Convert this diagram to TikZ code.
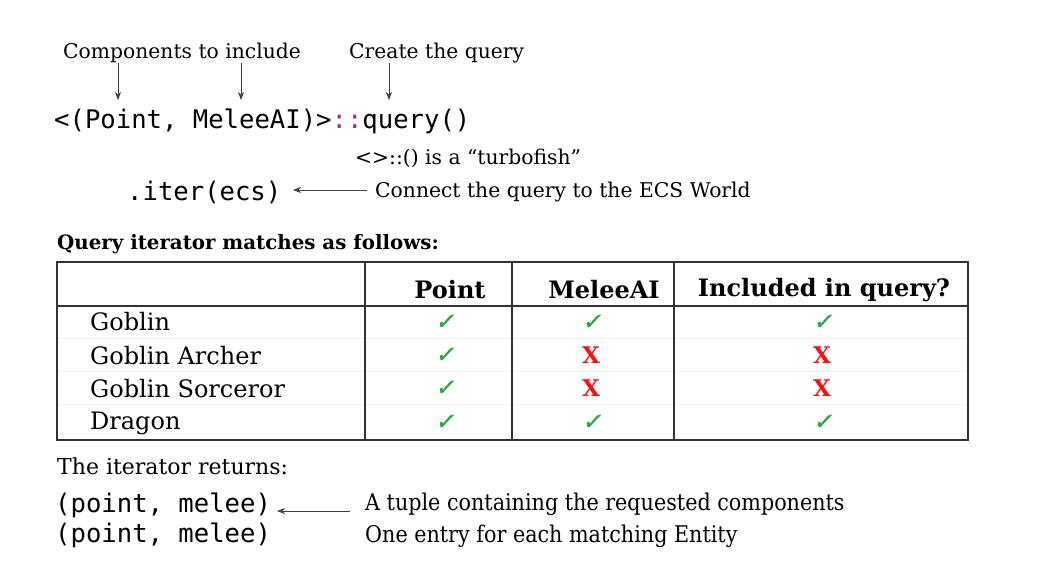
\documentclass[tikz,border=0pt]{standalone}
\usepackage{fontspec}
\usepackage{graphicx}
\setmainfont{DejaVu Serif}
\setmonofont{DejaVu Sans Mono}
\newfontfamily\checkfont[FakeSlant=0.2,FakeBold=1.4]{DejaVu Sans}
\usetikzlibrary{arrows.meta}
\definecolor{fishpurple}{RGB}{160,40,160}
\definecolor{okgreen}{RGB}{40,170,60}
\definecolor{badred}{RGB}{240,20,20}
\tikzset{
  lbl/.style={anchor=west, inner sep=0pt, yshift=-2pt, font=\fontsize{20.3}{22}\selectfont},
  code/.style={anchor=west, inner sep=0pt, yshift=-2pt, font=\fontsize{25.6}{28}\ttfamily},
  cond/.style={anchor=west, inner sep=0pt, yshift=-1pt},
  cell/.style={anchor=west, inner sep=0pt, yshift=-1pt, font=\fontsize{24}{26}\selectfont},
  head/.style={inner sep=0pt, font=\fontsize{24}{26}\bfseries},
  yes/.style={inner sep=0pt, text=okgreen, font=\fontsize{23}{24}\checkfont},
  no/.style={inner sep=0pt, text=badred, font=\fontsize{23}{22}\bfseries},
  arr/.style={-{Stealth[length=8pt,width=6pt,inset=2.5pt]}, line width=0.8pt, draw=black!75},
  frame/.style={line width=1.3pt, draw=black!80},
  faint/.style={line width=0.8pt, draw=black!6}
}
\begin{document}
\begin{tikzpicture}[x=1pt,y=-1pt]
\useasboundingbox (0,0) rectangle (1044,560);
% top labels
\node[lbl] (comp) at (63,51) {Components to include};
\node[lbl] (create) at (349,51) {Create the query};
\node[code] (query) at (54,119) {<(Point, MeleeAI)>\textcolor{fishpurple}{::}query()};
\coordinate (a1) at (118,100);
\coordinate (a2) at (241,100);
\coordinate (a3) at (389,100);
\coordinate (s1) at (118,63);
\coordinate (s2) at (241,63);
\coordinate (s3) at (389,63);
\draw[arr] (s1) -- (a1);
\draw[arr] (s2) -- (a2);
\draw[arr] (s3) -- (a3);
\node[lbl] (fish) at (355,156) {<>::() is a “turbofish”};
\node[code] (iter) at (127,190) {.iter(ecs)};
\node[lbl] (conn) at (375,190) {Connect the query to the ECS World};
\coordinate (c0) at (367,190);
\coordinate (c1) at (293,190);
\draw[arr] (c0) -- (c1);
% table heading
\node[anchor=west, inner sep=0pt, yshift=-1pt, font=\fontsize{19.8}{22}\bfseries] (qhead) at (57,243) {Query iterator matches as follows:};
% table
\draw[faint] (57,338) -- (968,338);
\draw[faint] (57,371) -- (968,371);
\draw[faint] (57,404) -- (968,404);
\draw[frame] (57,262) rectangle (968,440);
\draw[frame] (57,306) -- (968,306);
\draw[frame] (365,262) -- (365,440);
\draw[frame] (512,262) -- (512,440);
\draw[frame] (674,262) -- (674,440);
\node[head] (hp) at (450,290) {Point};
\node[head] (hm) at (604,290) {MeleeAI};
\node[head] (hi) at (824,290) {Included in query?};
\node[cell] (r1) at (90,321) {Goblin};
\node[cell] (r2) at (90,355) {Goblin Archer};
\node[cell] (r3) at (90,388) {Goblin Sorceror};
\node[cell] (r4) at (90,422) {Dragon};
\node[yes] (p1) at (445,322) {✓};
\node[yes] (p2) at (445,355) {✓};
\node[yes] (p3) at (445,388) {✓};
\node[yes] (p4) at (445,422) {✓};
\node[yes] (m1) at (592,322) {✓};
\node[no]  (m2) at (591,355) {X};
\node[no]  (m3) at (591,388) {X};
\node[yes] (m4) at (592,422) {✓};
\node[yes] (i1) at (823,322) {✓};
\node[no]  (i2) at (822,355) {X};
\node[no]  (i3) at (822,388) {X};
\node[yes] (i4) at (823,422) {✓};
% bottom
\node[cond, font=\fontsize{22}{24}\selectfont] (ret) at (57,465) {The iterator returns:};
\node[code] (t1) at (55,503) {(point, melee)};
\node[code] (t2) at (55,533) {(point, melee)};
\node[cond] (tup) at (365,503) {\scalebox{0.9}[1]{\fontsize{23}{24}\selectfont A tuple containing the requested components}};
\node[cond] (one) at (365,535) {\scalebox{0.9}[1]{\fontsize{23}{24}\selectfont One entry for each matching Entity}};
\coordinate (b0) at (350,511);
\coordinate (b1) at (277,511);
\draw[arr] (b0) -- (b1);
\end{tikzpicture}
\end{document}
